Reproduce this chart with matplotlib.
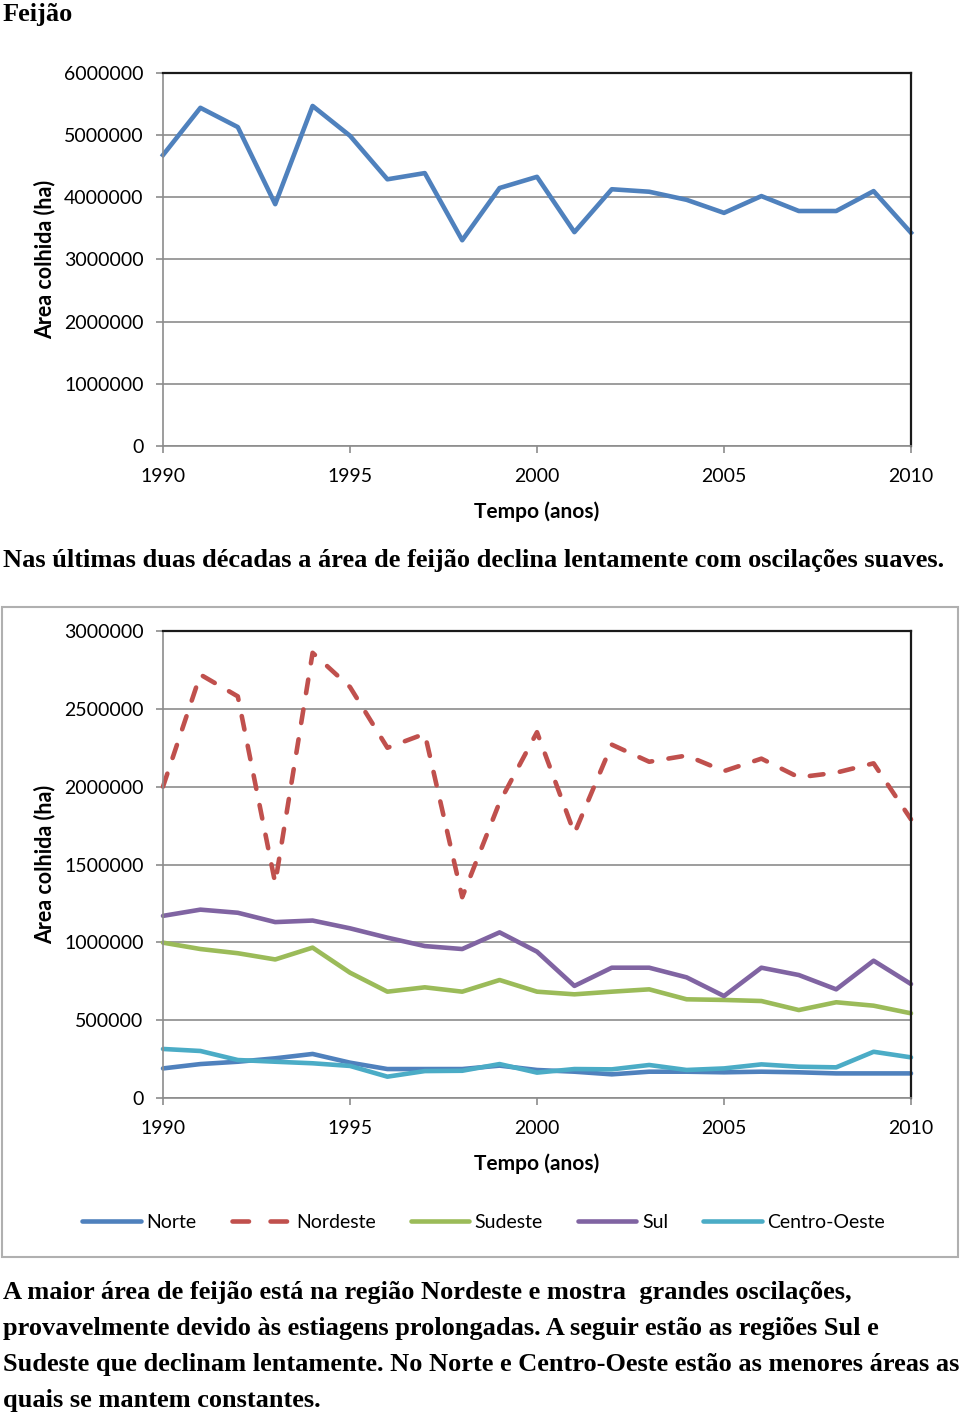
import matplotlib.pyplot as plt
import matplotlib as mpl
from matplotlib.patches import Rectangle
from matplotlib.lines import Line2D

# data
anos = list(range(1990, 2011))

brasil = [4.68, 5.44, 5.13, 3.89, 5.47, 4.99, 4.29, 4.39, 3.31, 4.15, 4.33,
          3.44, 4.13, 4.09, 3.96, 3.75, 4.02, 3.78, 3.78, 4.10, 3.43]

norte = [0.190, 0.218, 0.233, 0.255, 0.283, 0.227, 0.186, 0.186, 0.186, 0.208, 0.180,
         0.169, 0.152, 0.169, 0.169, 0.165, 0.169, 0.165, 0.158, 0.158, 0.158]
nordeste = [2.00, 2.72, 2.58, 1.38, 2.86, 2.64, 2.25, 2.34, 1.29, 1.90, 2.35,
            1.70, 2.27, 2.16, 2.20, 2.10, 2.18, 2.06, 2.09, 2.15, 1.79]
sudeste = [0.998, 0.957, 0.930, 0.890, 0.966, 0.805, 0.683, 0.711, 0.683, 0.758, 0.683,
           0.666, 0.683, 0.698, 0.634, 0.630, 0.623, 0.565, 0.615, 0.593, 0.544]
sul = [1.17, 1.21, 1.19, 1.13, 1.14, 1.09, 1.03, 0.976, 0.957, 1.064, 0.940,
       0.720, 0.837, 0.837, 0.775, 0.655, 0.837, 0.790, 0.698, 0.882, 0.732]
centro_oeste = [0.315, 0.302, 0.244, 0.233, 0.223, 0.206, 0.137, 0.173, 0.175, 0.218, 0.163,
                0.186, 0.184, 0.212, 0.180, 0.190, 0.216, 0.201, 0.197, 0.297, 0.261]

regioes = ['Norte', 'Nordeste', 'Sudeste', 'Sul', 'Centro-Oeste']
cores = ['#4F81BD', '#C0504D', '#9BBB59', '#8064A2', '#4BACC6']

xticks = [1990, 1995, 2000, 2005, 2010]
yticks1 = [0, 1000000, 2000000, 3000000, 4000000, 5000000, 6000000]
yticks2 = [0, 500000, 1000000, 1500000, 2000000, 2500000, 3000000]

titulo = 'Feijão'
texto1 = 'Nas últimas duas décadas a área de feijão declina lentamente com oscilações suaves.'
texto2 = ['A maior área de feijão está na região Nordeste e mostra  grandes oscilações,',
          'provavelmente devido às estiagens prolongadas. A seguir estão as regiões Sul e',
          'Sudeste que declinam lentamente. No Norte e Centro-Oeste estão as menores áreas as',
          'quais se mantem constantes.']

mpl.rcParams['font.family'] = 'Lato'
tick_fs = 14
grid_col = '#8c8c8c'
serif = 'Liberation Serif'
lw = 3.3

fig = plt.figure(figsize=(9.6, 14.18), dpi=100)


def style_axes(ax, yticks):
    ax.set_xlim(1990, 2010)
    ax.set_ylim(yticks[0], yticks[-1])
    ax.set_xticks(xticks)
    ax.set_yticks(yticks)
    ax.set_yticklabels([str(v) for v in yticks])
    ax.grid(axis='y', color=grid_col, linewidth=1.2)
    ax.set_axisbelow(True)
    for s in ['left', 'bottom']:
        ax.spines[s].set_color(grid_col)
        ax.spines[s].set_linewidth(1.2)
    for s in ['top', 'right']:
        ax.spines[s].set_color('#1a1a1a')
        ax.spines[s].set_linewidth(1.6)
    ax.tick_params(axis='both', colors=grid_col, labelcolor='black', labelsize=tick_fs,
                   length=5, width=1.2)
    ax.tick_params(axis='y', pad=9)
    ax.tick_params(axis='x', pad=11)
    ax.set_xlabel('Tempo (anos)', fontsize=15, fontweight='bold', labelpad=12)
    ax.set_ylabel('Area colhida (ha)', fontsize=15.5, fontweight='bold', labelpad=6)


# chart 1: Brasil
ax1 = fig.add_axes([163 / 960, 1 - 446 / 1418, 748 / 960, 373 / 1418])
ax1.plot(anos, [v * 1e6 for v in brasil], color=cores[0], linewidth=lw, clip_on=False)
style_axes(ax1, yticks1)

# box around chart 2
fig.patches.append(Rectangle((2 / 960, 1 - 1257 / 1418), 956 / 960, 650 / 1418,
                             transform=fig.transFigure, fill=False,
                             edgecolor='#b0b0b0', linewidth=1.5))

# chart 2: regions
ax2 = fig.add_axes([163 / 960, 1 - 1098 / 1418, 748 / 960, 467 / 1418])
series = [norte, nordeste, sudeste, sul, centro_oeste]
handles = []
for nome, cor, vals in zip(regioes, cores, series):
    if nome == 'Nordeste':
        ax2.plot(anos, [v * 1e6 for v in vals], color=cor, linewidth=lw,
                 linestyle=(0, (3, 3.6)), dash_capstyle='round', clip_on=False)
        handles.append(Line2D([], [], color=cor, linewidth=lw, linestyle=(0, (3.6, 4.7)),
                              dash_capstyle='round'))
    else:
        ax2.plot(anos, [v * 1e6 for v in vals], color=cor, linewidth=lw,
                 solid_capstyle='round', clip_on=False)
        handles.append(Line2D([], [], color=cor, linewidth=lw, solid_capstyle='round'))
style_axes(ax2, yticks2)

fig.legend(handles=handles, labels=regioes, loc='center', bbox_to_anchor=(0.504, 1 - 1222 / 1418),
           ncol=5, frameon=False, fontsize=14, handlelength=3.0, handletextpad=0.3,
           columnspacing=1.8)

# texts
fig.text(3 / 960, 1 - 21 / 1418, titulo, fontsize=19, fontweight='bold', family=serif,
         va='baseline', ha='left')
fig.text(3 / 960, 1 - 561 / 1418, texto1, fontsize=19, fontweight='bold', family=serif,
         va='center', ha='left')
for i, linha in enumerate(texto2):
    fig.text(3 / 960, 1 - (1293 + 36 * i) / 1418, linha, fontsize=19, fontweight='bold',
             family=serif, va='center', ha='left')

fig.savefig('out.png', dpi=100)
